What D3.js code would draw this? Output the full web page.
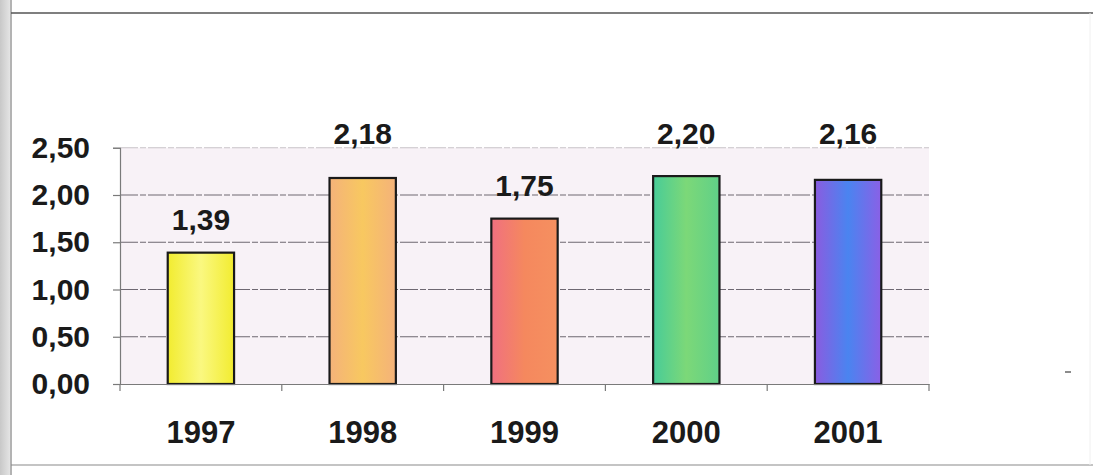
<!DOCTYPE html>
<html>
<head>
<meta charset="utf-8">
<script src="https://cdn.jsdelivr.net/npm/d3@7"></script>
<style>
html,body{margin:0;padding:0;background:#fff;}
svg{display:block;}
text{font-family:"Liberation Sans",Arial,sans-serif;font-weight:bold;fill:#1a1a1a;}
</style>
</head>
<body>
<svg id="chart" width="1093" height="475"></svg>
<script>
const categories = ["1997","1998","1999","2000","2001"];
const values = [1.39, 2.18, 1.75, 2.20, 2.16];
const valueLabels = ["1,39","2,18","1,75","2,20","2,16"];
const yTicks = [0, 0.5, 1.0, 1.5, 2.0, 2.5];
const yTickLabels = ["0,00","0,50","1,00","1,50","2,00","2,50"];
const barColors = [
  ["#f2ec30","#faf880","#f2ec30"],
  ["#f4b27a","#f8c860","#f4b27a"],
  ["#f07080","#f5885e","#f59060"],
  ["#48cc98","#7cd878","#60d088"],
  ["#8a5ce0","#4a84f0","#8a60e6"]
];

const svg = d3.select("#chart");
const W = 1093, H = 475;
const plot = {left:120, right:929, top:147.75, bottom:384};

// scan frame
const defs = svg.append("defs");
const edge = defs.append("linearGradient").attr("id","edge").attr("x1","0").attr("x2","1");
edge.append("stop").attr("offset","0").attr("stop-color","#c8c8c8");
edge.append("stop").attr("offset","1").attr("stop-color","#e4e4e4");
svg.append("rect").attr("x",0).attr("y",0).attr("width",10).attr("height",H).attr("fill","url(#edge)");
svg.append("line").attr("x1",11).attr("x2",11).attr("y1",0).attr("y2",H).attr("stroke","#9a9a9a").attr("stroke-width",1.5);
svg.append("line").attr("x1",11).attr("x2",W).attr("y1",13).attr("y2",13).attr("stroke","#555").attr("stroke-width",1.5);
svg.append("line").attr("x1",11).attr("x2",W).attr("y1",465).attr("y2",465).attr("stroke","#8a8a8a").attr("stroke-width",1.2);
svg.append("line").attr("x1",1090).attr("x2",1090).attr("y1",13).attr("y2",465).attr("stroke","#f0f0f0").attr("stroke-width",1);
svg.append("line").attr("x1",1065).attr("x2",1071).attr("y1",372).attr("y2",372).attr("stroke","#666").attr("stroke-width",1.5);

const x = d3.scaleBand().domain(categories).range([plot.left, plot.right]).paddingInner(0.59).paddingOuter(0.295);
const xb = d3.scaleBand().domain(categories).range([plot.left, plot.right]);
const y = d3.scaleLinear().domain([0, 2.5]).range([plot.bottom, plot.top]);

// plot background
svg.append("rect").attr("x",plot.left).attr("y",y(2.5)).attr("width",plot.right-plot.left)
  .attr("height",plot.bottom-y(2.5)).attr("fill","#f8f2f7");

// gridlines
svg.append("g").selectAll("line").data(yTicks.filter(d=>d>0)).join("line")
  .attr("x1",plot.left).attr("x2",plot.right)
  .attr("y1",d=>y(d)).attr("y2",d=>y(d))
  .attr("stroke",(d,i)=> d===2.5 ? "#c8c2c8" : "#6e6872").attr("stroke-width",1.2)
  .attr("stroke-dasharray","18,2,6,2");

// bars
barColors.forEach((c,i)=>{
  const g = defs.append("linearGradient").attr("id","bg"+i).attr("x1","0").attr("x2","1");
  g.append("stop").attr("offset","0").attr("stop-color",c[0]);
  g.append("stop").attr("offset","0.5").attr("stop-color",c[1]);
  g.append("stop").attr("offset","1").attr("stop-color",c[2]);
});
svg.append("g").selectAll("rect").data(values).join("rect")
  .attr("x",(d,i)=>x(categories[i]))
  .attr("y",d=>y(d))
  .attr("width",x.bandwidth())
  .attr("height",d=>y(0)-y(d))
  .attr("fill",(d,i)=>"url(#bg"+i+")")
  .attr("stroke","#1a1a1a").attr("stroke-width",2.2);

// value labels
svg.append("g").selectAll("text").data(values).join("text")
  .attr("x",(d,i)=>x(categories[i])+x.bandwidth()/2)
  .attr("y",d=> d>2 ? y(2.5)-4 : y(d)-23)
  .attr("text-anchor","middle").attr("font-size",30)
  .text((d,i)=>valueLabels[i]);

// y axis
const yAxis = d3.axisLeft(y).tickValues(yTicks).tickSize(7).tickFormat((d,i)=>yTickLabels[i]);
const ya = svg.append("g").attr("transform",`translate(${plot.left},0)`).call(yAxis);
ya.select(".domain").attr("stroke","#7a7a7a").attr("stroke-width",1.2);
ya.selectAll(".tick line").attr("stroke","#7a7a7a").attr("stroke-width",1.2);
ya.selectAll(".tick text").attr("x",-30).attr("font-size",30).attr("fill","#1a1a1a")
  .style("font-family","'Liberation Sans',Arial,sans-serif").style("font-weight","bold");

// x axis
const xAxis = d3.axisBottom(xb).tickSize(0).tickPadding(0);
const xa = svg.append("g").attr("transform",`translate(0,${plot.bottom})`).call(xAxis);
xa.select(".domain").attr("stroke","#7a7a7a").attr("stroke-width",1.2);
xa.selectAll(".tick text").attr("y",59).attr("dy",0).attr("font-size",31).attr("fill","#1a1a1a")
  .style("font-family","'Liberation Sans',Arial,sans-serif").style("font-weight","bold");
svg.append("g").selectAll("line").data(categories.map((c,i)=>i).concat([categories.length])).join("line")
  .attr("x1",i=> i<categories.length ? xb(categories[i]) : plot.right)
  .attr("x2",i=> i<categories.length ? xb(categories[i]) : plot.right)
  .attr("y1",plot.bottom).attr("y2",plot.bottom+7)
  .attr("stroke","#7a7a7a").attr("stroke-width",1.2);
</script>
</body>
</html>
